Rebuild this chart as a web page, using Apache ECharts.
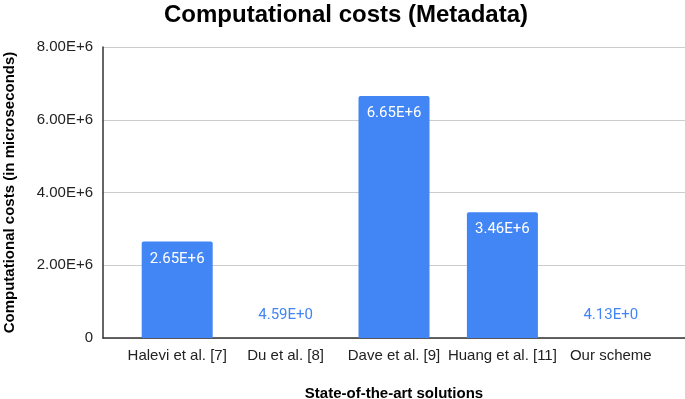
<!DOCTYPE html>
<html>
<head>
<meta charset="utf-8">
<script src="https://cdn.jsdelivr.net/npm/echarts@6/dist/echarts.min.js"></script>
<style>
  html, body { margin: 0; padding: 0; background: #fff; }
  #chart { width: 685px; height: 399px; }
</style>
</head>
<body>
<div id="chart"></div>
<script>
// 数据
var categories = ['Halevi et al. [7]', 'Du et al. [8]', 'Dave et al. [9]', 'Huang et al. [11]', 'Our scheme'];
var costs = [2650000, 4.59, 6650000, 3460000, 4.13];
var yTicks = [0, 2000000, 4000000, 6000000, 8000000];

var blue = '#4285F4';
var font = 'Liberation Sans';

function expLabel(v) {
    if (v === 0) return '0';
    return v.toExponential(2).toUpperCase();
}

// 小数值的标签放在柱子上方
var barData = costs.map(function (v) {
    var big = v > 100000;
    return {
        value: v,
        label: {
            show: true,
            position: big ? 'insideTop' : 'top',
            distance: big ? 10 : 15,
            color: big ? '#fff' : blue,
            fontSize: 15,
            fontFamily: 'Roboto',
            formatter: function (p) { return expLabel(p.value); }
        }
    };
});

var myChart = echarts.init(document.getElementById('chart'));
var option = {
    animation: false,
    title: {
        text: 'Computational costs (Metadata)',
        left: 341,
        textAlign: 'center',
        top: -2,
        textStyle: { fontSize: 24, fontWeight: 'bold', fontFamily: font, color: '#000' }
    },
    grid: [
        { left: 103, right: 0, top: 47, bottom: 61, outerBoundsMode: 'none' },
        { left: 123, right: 20, top: 47, bottom: 61, outerBoundsMode: 'none' }
    ],
    xAxis: [
        {
            gridIndex: 0, type: 'value', min: 0, max: 1,
            axisLine: { show: true, lineStyle: { color: '#333', width: 1.5 } },
            axisTick: { show: false }, axisLabel: { show: false }, splitLine: { show: false }
        },
        {
            gridIndex: 1, type: 'category', data: categories,
            axisLine: { show: false }, axisTick: { show: false },
            axisLabel: { color: '#222', fontSize: 15, fontFamily: font, margin: 10, interval: 0 },
            name: 'State-of-the-art solutions',
            nameLocation: 'middle', nameGap: 48,
            nameTextStyle: { fontSize: 15, fontWeight: 'bold', fontFamily: font, color: '#000' }
        }
    ],
    yAxis: [
        {
            gridIndex: 0, type: 'value', min: yTicks[0], max: yTicks[yTicks.length - 1], interval: 2000000,
            axisLine: { show: true, lineStyle: { color: '#333', width: 1.5 } },
            axisTick: { show: false },
            axisLabel: { color: '#222', fontSize: 15, fontFamily: font, margin: 10, formatter: expLabel },
            splitLine: { lineStyle: { color: '#ccc' } },
            name: 'Computational costs (in microseconds)',
            nameLocation: 'middle', nameGap: 86, nameRotate: 90,
            nameTextStyle: { fontSize: 15, fontWeight: 'bold', fontFamily: font, color: '#000' }
        },
        {
            gridIndex: 1, type: 'value', min: yTicks[0], max: yTicks[yTicks.length - 1], show: false
        }
    ],
    series: [{
        type: 'bar',
        xAxisIndex: 1, yAxisIndex: 1,
        data: barData,
        barWidth: 71,
        itemStyle: { color: blue, borderRadius: [2, 2, 0, 0] },
        z: 3
    }]
};
myChart.setOption(option);
window.onresize = function () { myChart.resize(); };
</script>
</body>
</html>
